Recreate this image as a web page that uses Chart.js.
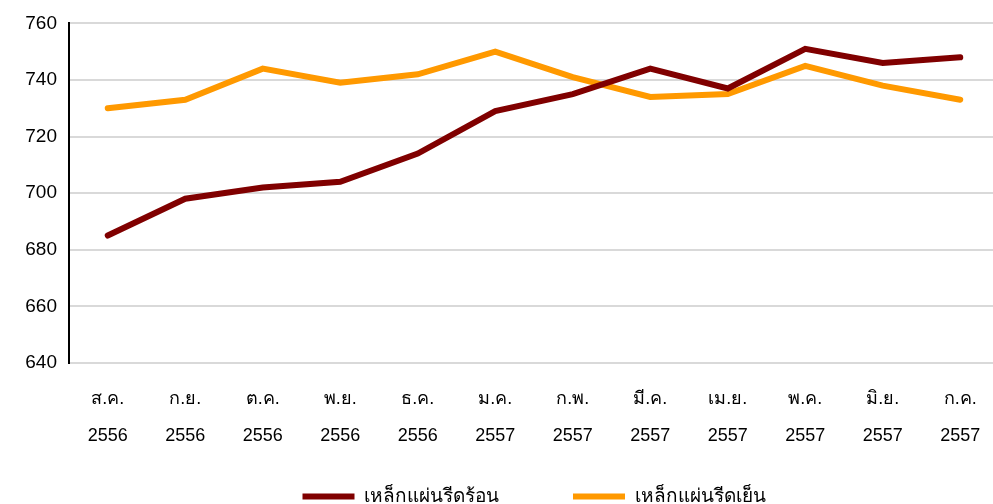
<!DOCTYPE html>
<html>
<head>
<meta charset="utf-8">
<script src="https://cdn.jsdelivr.net/npm/chart.js@4"></script>
<style>
  html, body { margin: 0; padding: 0; background: #fff; overflow: hidden; }
  #wrap { width: 999px; height: 516px; position: relative; }
</style>
</head>
<body>
<div id="wrap"><canvas id="chart"></canvas></div>
<script>
// categories (Thai month + Buddhist year)
const months = ['ส.ค.', 'ก.ย.', 'ต.ค.', 'พ.ย.', 'ธ.ค.', 'ม.ค.', 'ก.พ.', 'มี.ค.', 'เม.ย.', 'พ.ค.', 'มิ.ย.', 'ก.ค.'];
const years = ['2556', '2556', '2556', '2556', '2556', '2557', '2557', '2557', '2557', '2557', '2557', '2557'];

// series
const hotRolled = [685, 698, 702, 704, 714, 729, 735, 744, 737, 751, 746, 748];
const coldRolled = [730, 733, 744, 739, 742, 750, 741, 734, 735, 745, 738, 733];

const seriesNames = ['เหล็กแผ่นรีดร้อน', 'เหล็กแผ่นรีดเย็น'];
const yTicks = [640, 660, 680, 700, 720, 740, 760];

const labels = months.map((m, i) => [m, years[i]]);
const fontFam = 'Arial, "Liberation Sans", "Noto Sans", sans-serif';

// legend needs wide gaps between items but little vertical room,
// so shrink its box and draw it with its top moved up by the same amount
const legendShift = 52;
const legendLift = {
    id: 'legendLift',
    beforeLayout(chart) {
        const lg = chart.legend;
        if (!lg || lg._lifted) return;
        const fit = lg.fit, draw = lg.draw;
        lg.fit = function () { fit.call(this); this.height -= legendShift; };
        lg.draw = function () {
            const t = this.top;
            this.top -= legendShift;
            this.height += legendShift;
            draw.call(this);
            this.top = t;
            this.height -= legendShift;
        };
        lg._lifted = true;
    }
};

new Chart(document.getElementById('chart'), {
    type: 'line',
    data: {
        labels,
        datasets: [
            {
                label: seriesNames[0],
                data: hotRolled,
                borderColor: '#800000',
                backgroundColor: '#800000',
                borderWidth: 6,
                pointRadius: 0,
                tension: 0,
                borderCapStyle: 'round'
            },
            {
                label: seriesNames[1],
                data: coldRolled,
                borderColor: '#FF9900',
                backgroundColor: '#FF9900',
                borderWidth: 6,
                pointRadius: 0,
                tension: 0,
                borderCapStyle: 'round'
            }
        ]
    },
    plugins: [legendLift],
    options: {
        responsive: true,
        maintainAspectRatio: false,
        animation: false,
        layout: { padding: { top: 15, left: 0, right: 0, bottom: 0 } },
        plugins: {
            tooltip: { enabled: false },
            legend: {
                position: 'bottom',
                fullSize: false,
                labels: {
                    color: '#000',
                    font: { family: fontFam, size: 19 },
                    usePointStyle: true,
                    pointStyle: 'line',
                    pointStyleWidth: 52,
                    boxHeight: 6,
                    padding: 74
                }
            }
        },
        scales: {
            x: {
                offset: true,
                grid: { display: false },
                border: { display: false },
                ticks: {
                    color: '#000',
                    padding: 10,
                    maxRotation: 0,
                    autoSkip: false,
                    font: { family: fontFam, size: 18, lineHeight: 2.06 }
                }
            },
            y: {
                min: 640,
                max: 760,
                afterFit: (scale) => { scale.width = 69; },
                afterBuildTicks: (scale) => { scale.ticks = yTicks.map(v => ({ value: v })); },
                grid: { color: '#d9d9d9', lineWidth: 2, drawTicks: false },
                border: { display: true, color: '#000', width: 2 },
                ticks: {
                    color: '#000',
                    padding: 12,
                    font: { family: fontFam, size: 19 }
                }
            }
        }
    }
});
</script>
</body>
</html>
